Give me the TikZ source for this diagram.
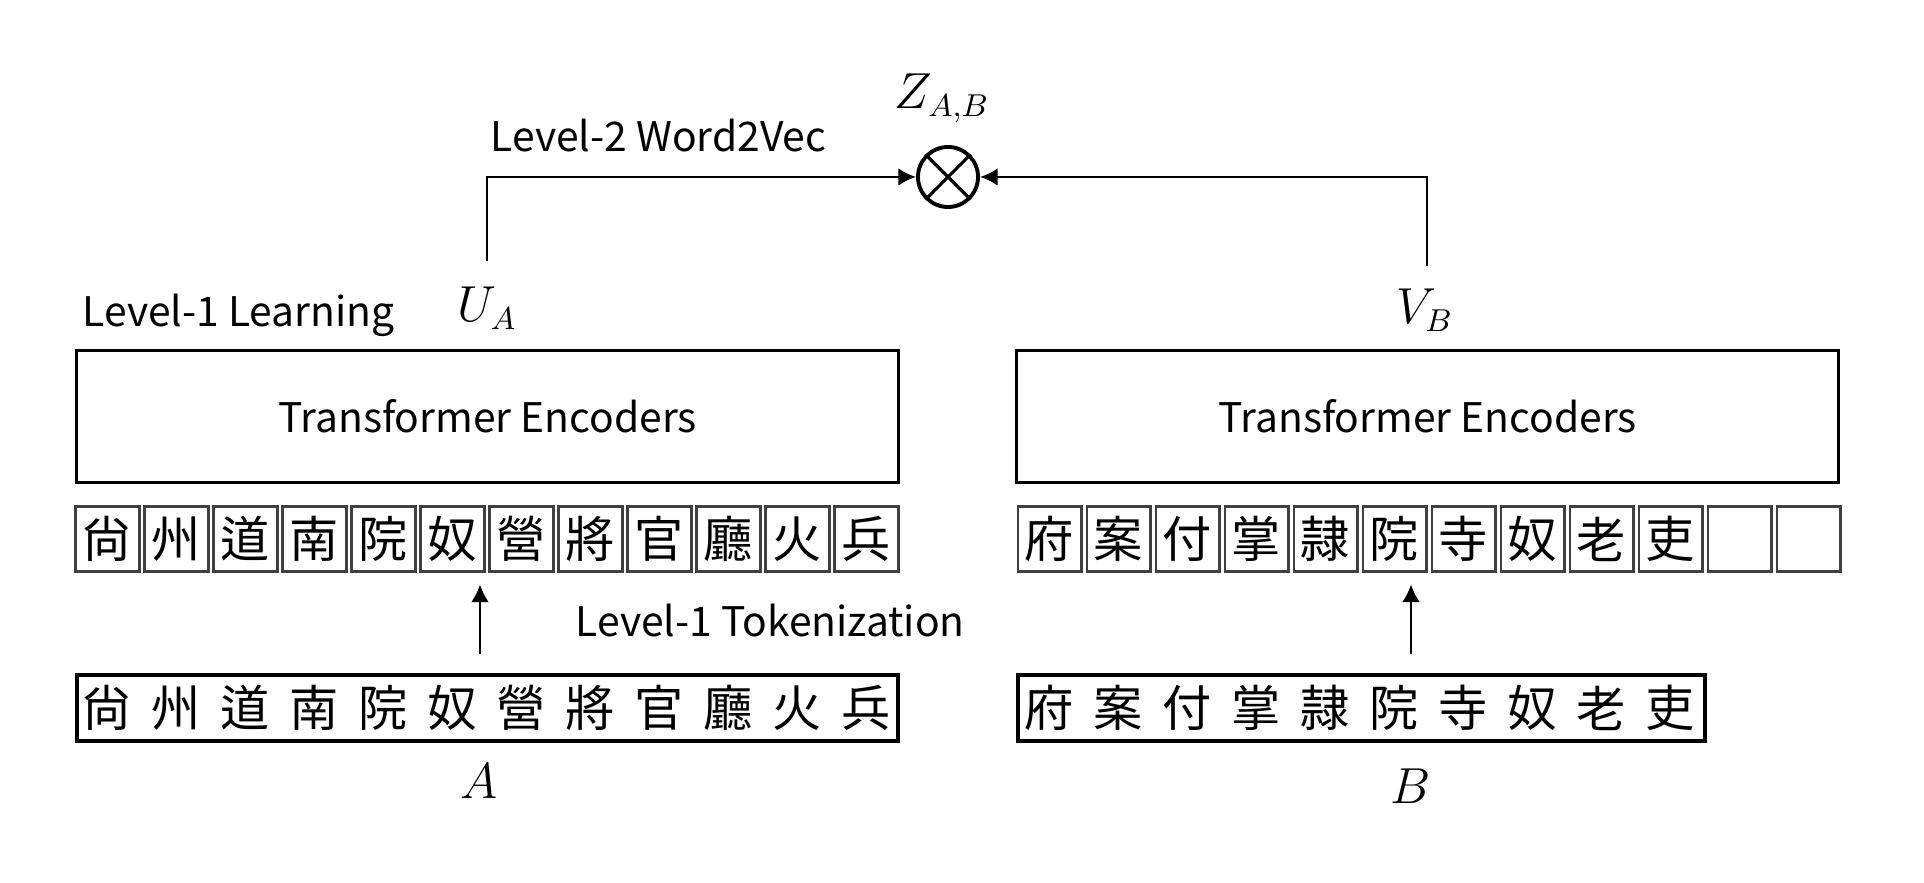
\documentclass[tikz,border=0pt]{standalone}
\usepackage{fontspec}
\setmainfont{Noto Sans CJK KR}
\usetikzlibrary{arrows.meta}
\definecolor{tokgray}{HTML}{404040}
\tikzset{
  encbox/.style={draw, line width=0.85pt, minimum width=8.21cm, minimum height=1.31cm, font=\fontsize{11.6}{14}\selectfont},
  tokbox/.style={draw=tokgray, line width=0.85pt, minimum width=0.63cm, minimum height=0.64cm, inner sep=0pt, font=\fontsize{14}{16}\selectfont},
  seqbox/.style={draw, line width=1pt, minimum height=0.66cm, inner sep=0pt},
  chr/.style={inner sep=0pt, font=\fontsize{14}{16}\selectfont},
  lbl/.style={inner sep=0pt, font=\fontsize{11.6}{14}\selectfont},
  sym/.style={inner sep=0pt, font=\fontsize{13.5}{15}\selectfont},
  symbig/.style={inner sep=0pt, font=\fontsize{15}{17}\selectfont},
  conn/.style={line width=0.8pt, -{Latex[length=5pt,width=5pt]}},
  uparrow/.style={line width=0.6pt, -{Latex[length=5pt,width=5pt]}}
}
\begin{document}
\begin{tikzpicture}[x=0.01cm, y=-0.01cm]
\useasboundingbox (0,0) rectangle (1924,883);
\node[encbox] (encA) at (487.5,416.5) {Transformer Encoders};
\node[encbox] (encB) at (1427.5,416.5) {Transformer Encoders};
\node[seqbox, minimum width=8.21cm] (seqA) at (487.5,708) {};
\node[seqbox, minimum width=6.87cm] (seqB) at (1361.5,708) {};
\foreach \c [count=\i] in {尙,州,道,南,院,奴,營,將,官,廳,火,兵}{
  \node[tokbox] (ta\i) at ({107.5+69*(\i-1)},539) {\c};
  \node[chr] (ca\i) at ({107.5+69*(\i-1)},708) {\c};
}
\foreach \c [count=\i] in {府,案,付,掌,隷,院,寺,奴,老,吏,{},{}}{
  \node[tokbox] (tb\i) at ({1049.5+69*(\i-1)},539) {\c};
}
\foreach \c [count=\i] in {府,案,付,掌,隷,院,寺,奴,老,吏}{
  \node[chr] (cb\i) at ({1049.5+69*(\i-1)},708) {\c};
}
\node[draw, circle, line width=1.1pt, minimum size=0.6cm, inner sep=0pt] (prod) at (948,177) {};
\draw[line width=0.9pt] (prod.north west) -- (prod.south east) (prod.north east) -- (prod.south west);
\node[sym] (zab) at (942,98) {$Z_{A,B}$};
\coordinate (ua) at (487,261);
\coordinate (vb) at (1427,266);
\draw[conn] (ua) |- (prod);
\draw[conn] (vb) |- (prod);
\node[lbl, anchor=base west] (w2v) at (490,152) {Level-2 Word2Vec};
\node[lbl, anchor=base west] (l1l) at (82,327) {Level-1 Learning};
\node[sym, anchor=base] (uA) at (487,322) {$U_A$};
\node[sym, anchor=base] (vB) at (1425,324) {$V_B$};
\node[lbl, anchor=base west] (l1t) at (575,637) {Level-1 Tokenization};
\coordinate (xa) at (480,0);
\coordinate (xb) at (1411,0);
\draw[uparrow, shorten <=0.19cm, shorten >=0.12cm] (seqA.north -| xa) -- (ta6.south -| xa);
\draw[uparrow, shorten <=0.19cm, shorten >=0.12cm] (seqB.north -| xb) -- (tb6.south -| xb);
\node[symbig] (lA) at (479,781) {$A$};
\node[symbig] (lB) at (1411,786) {$B$};
\end{tikzpicture}
\end{document}
